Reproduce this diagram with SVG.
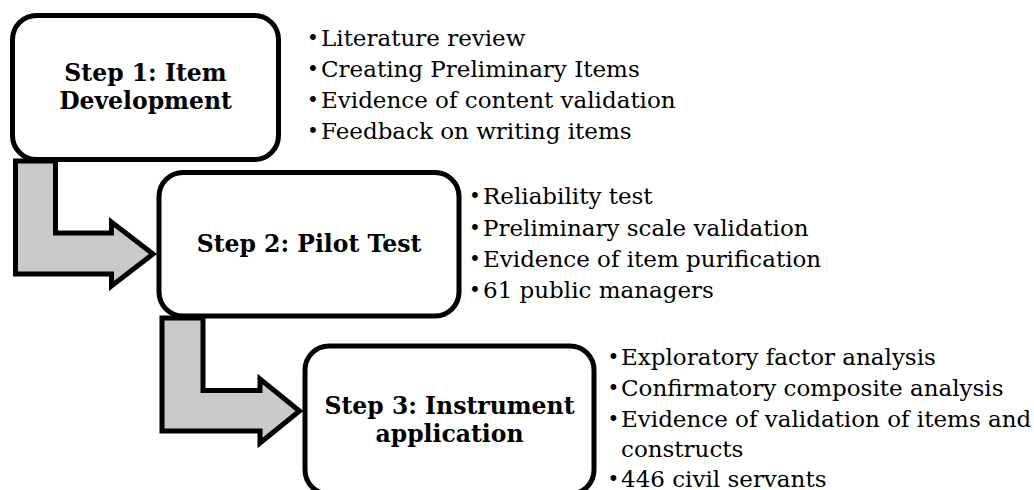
<svg xmlns="http://www.w3.org/2000/svg" width="1034" height="490" viewBox="0 0 1034 490">
<style>
.box{fill:#fff;stroke:#000;stroke-width:5}
.arrow{fill:#c9c9c9;stroke:#000;stroke-width:5;stroke-linejoin:miter;stroke-miterlimit:10}
.title{font-family:"DejaVu Serif","Liberation Serif",serif;font-size:23.5px;font-weight:bold;text-anchor:middle;fill:#000}
.item{font-family:"DejaVu Serif","Liberation Serif",serif;font-size:23px;fill:#000}
.bullet{font-family:"DejaVu Serif","Liberation Serif",serif;font-size:20px;text-anchor:middle;fill:#000}
</style>
<rect width="1034" height="490" fill="#fff"/>
<g id="connectors">
<path class="arrow" d="M15.5,161 V274 H111.5 V286 L153,254 L111.5,222 V233 H55.5 V161 Z"/>
<path class="arrow" d="M162,318 V431 H260 V443 L299.5,411 L260,379 V390.5 H203 V318 Z"/>
</g>
<g id="step1">
<rect class="box" x="12.5" y="15.5" width="266" height="144" rx="24"/>
<text class="title" x="145.5" y="80.5">Step 1: Item</text>
<text class="title" x="145.5" y="108.5">Development</text>
</g>
<g id="step2">
<rect class="box" x="159" y="172.5" width="300" height="143.5" rx="24"/>
<text class="title" x="309" y="252">Step 2: Pilot Test</text>
</g>
<g id="step3">
<rect class="box" x="305" y="346" width="289" height="148" rx="24"/>
<text class="title" x="449.5" y="413.5">Step 3: Instrument</text>
<text class="title" x="449.5" y="441.5">application</text>
</g>
<g id="list1">
<text class="bullet" x="313" y="45">•</text><text class="item" x="321" y="46">Literature review</text>
<text class="bullet" x="313" y="76">•</text><text class="item" x="321" y="77">Creating Preliminary Items</text>
<text class="bullet" x="313" y="107">•</text><text class="item" x="321" y="108">Evidence of content validation</text>
<text class="bullet" x="313" y="138">•</text><text class="item" x="321" y="139">Feedback on writing items</text>
</g>
<g id="list2">
<text class="bullet" x="475" y="203">•</text><text class="item" x="483" y="204">Reliability test</text>
<text class="bullet" x="475" y="234.5">•</text><text class="item" x="483" y="235.5">Preliminary scale validation</text>
<text class="bullet" x="475" y="266">•</text><text class="item" x="483" y="267">Evidence of item purification</text>
<text class="bullet" x="475" y="297">•</text><text class="item" x="483" y="298">61 public managers</text>
</g>
<g id="list3">
<text class="bullet" x="613.5" y="364">•</text><text class="item" x="621" y="365">Exploratory factor analysis</text>
<text class="bullet" x="613.5" y="395">•</text><text class="item" x="621" y="396">Confirmatory composite analysis</text>
<text class="bullet" x="613.5" y="426">•</text><text class="item" x="621" y="427">Evidence of validation of items and</text>
<text class="item" x="621" y="457">constructs</text>
<text class="bullet" x="613.5" y="486">•</text><text class="item" x="621" y="487">446 civil servants</text>
</g>
</svg>
